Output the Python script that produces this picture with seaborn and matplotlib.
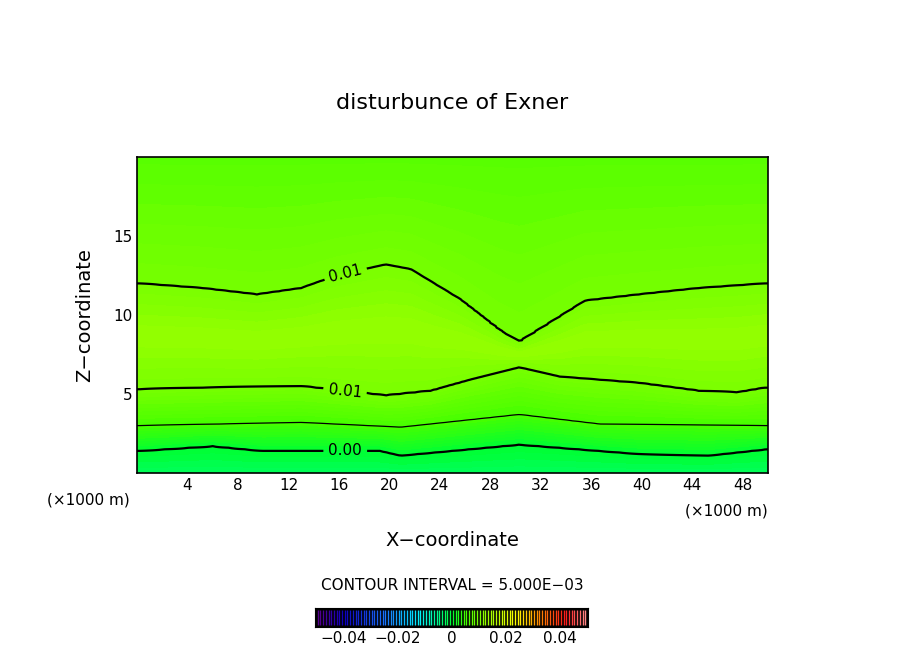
import numpy as np
import matplotlib
matplotlib.use("Agg")
import matplotlib.pyplot as plt
import seaborn as sns
from matplotlib.colors import LinearSegmentedColormap

sns.set_style("ticks")
plt.rcParams['font.family'] = ['DejaVu Sans']
plt.rcParams['text.color'] = 'black'
plt.rcParams['xtick.color'] = 'black'
plt.rcParams['ytick.color'] = 'black'
plt.rcParams['axes.edgecolor'] = 'black'

# contour heights (x in km, z in km)
x_up = [0.2, 5.2, 9.5, 13.0, 15.8, 19.7, 21.7, 25.6, 28.8, 30.3, 32.3, 35.5, 39.8, 44.5, 49.8]
z_up = [12.0, 11.7, 11.3, 11.7, 12.5, 13.2, 12.9, 11.0, 9.0, 8.3, 9.3, 10.9, 11.3, 11.7, 12.0]
x_lo = [0.2, 5.2, 13.0, 19.7, 23.3, 26.4, 30.3, 33.5, 39.8, 44.5, 47.6, 49.8]
z_lo = [5.3, 5.4, 5.5, 4.9, 5.2, 5.9, 6.7, 6.1, 5.7, 5.2, 5.1, 5.4]
x_h5 = [0.2, 13.0, 20.9, 30.3, 36.6, 49.8]
z_h5 = [3.0, 3.2, 2.9, 3.7, 3.1, 3.0]
x_h0 = [0.2, 6.0, 9.9, 19.3, 20.9, 30.3, 39.8, 45.3, 49.8]
z_h0 = [1.4, 1.7, 1.4, 1.4, 1.1, 1.8, 1.2, 1.1, 1.5]
val_bottom, val_max, val_top = -0.002, 0.0125, 0.0068

x = np.linspace(0, 50, 201)
z = np.linspace(0, 20, 201)
h0 = np.interp(x, x_h0, z_h0); h5 = np.interp(x, x_h5, z_h5)
hl = np.interp(x, x_lo, z_lo); hu = np.interp(x, x_up, z_up)
F = np.zeros((len(z), len(x)))
for i in range(len(x)):
    zm = 0.5 * (hl[i] + hu[i])
    zs = [0, h0[i], h5[i], hl[i], zm, hu[i], 20]
    vs = [val_bottom, 0, 0.005, 0.01, val_max, 0.01, val_top]
    F[:, i] = np.interp(z, zs, vs)

anchors = [(-0.05, (0.35, 0, 0.55)), (-0.04, (0.05, 0, 0.75)), (-0.025, (0.1, 0.45, 1.0)),
           (-0.012, (0, 0.95, 1.0)), (-0.002, (0, 1.0, 0.35)), (0.0, (0.0, 1.0, 0.2)),
           (0.005, (0.27, 1.0, 0.0)), (0.01, (0.47, 1.0, 0.0)), (0.0135, (0.62, 1.0, 0.0)),
           (0.024, (1.0, 1.0, 0)), (0.032, (1.0, 0.55, 0)), (0.042, (1.0, 0.1, 0.1)),
           (0.05, (1.0, 0.55, 0.55))]
cmap = LinearSegmentedColormap.from_list("g", [((v + 0.05) / 0.1, c) for v, c in anchors])

fig = plt.figure(figsize=(9.04, 6.54), dpi=100)
ax = fig.add_axes([137/904, 1-473/654, 631/904, 316/654])
ax.contourf(x, z, F, levels=np.linspace(-0.05, 0.05, 201), cmap=cmap, vmin=-0.05, vmax=0.05)
ax.contour(x, z, F, levels=[0.005], colors='black', linewidths=0.9)
cs = ax.contour(x, z, F, levels=[0.0, 0.01], colors='black', linewidths=1.6)
ax.clabel(cs, fmt='%.2f', fontsize=11, inline=True,
          manual=[(16.5, 12.7), (16.5, 5.4), (16.5, 1.4)])
ax.set_xlim(0, 50); ax.set_ylim(0, 20)
ax.set_xticks(range(4, 50, 4))
ax.set_xticks(range(2, 50, 2), minor=True)
ax.set_yticks([5, 10, 15])
ax.set_yticks(range(1, 20), minor=True)
ax.tick_params(which='both', direction='in', top=True, right=True, labelsize=11, width=1.2)
ax.tick_params(which='major', length=7)
ax.tick_params(which='minor', length=4)
for s in ax.spines.values():
    s.set_linewidth(1.2)

fig.text(0.5, 1-103/654, "disturbunce of Exner", ha='center', va='center', fontsize=16)
fig.text(85/904, 1-315/654, "Z\u2212coordinate", rotation=90, ha='center', va='center', fontsize=14)
fig.text(0.5, 1-540/654, "X\u2212coordinate", ha='center', va='center', fontsize=14)
fig.text(47/904, 1-500/654, "(\u00d71000 m)", ha='left', va='center', fontsize=11)
fig.text(685/904, 1-511/654, "(\u00d71000 m)", ha='left', va='center', fontsize=11)
fig.text(0.5, 1-585/654, "CONTOUR INTERVAL = 5.000E\u221203", ha='center', va='center', fontsize=11)

cax = fig.add_axes([315/904, 1-627/654, 273/904, 19/654])
cax.set_facecolor('black')
vals = np.arange(-0.0495, 0.05, 0.001)
cax.vlines(vals, 0.1, 0.9, colors=[cmap((v + 0.05) / 0.1) for v in vals], linewidth=1)
cax.set_xlim(-0.0505, 0.0505); cax.set_ylim(0, 1)
cax.set_yticks([])
cax.set_xticks([-0.04, -0.02, 0, 0.02, 0.04])
cax.set_xticklabels(["\u22120.04", "\u22120.02", "0", "0.02", "0.04"])
cax.tick_params(length=0, labelsize=11, pad=3)
fig.savefig("out.png", dpi=100)
